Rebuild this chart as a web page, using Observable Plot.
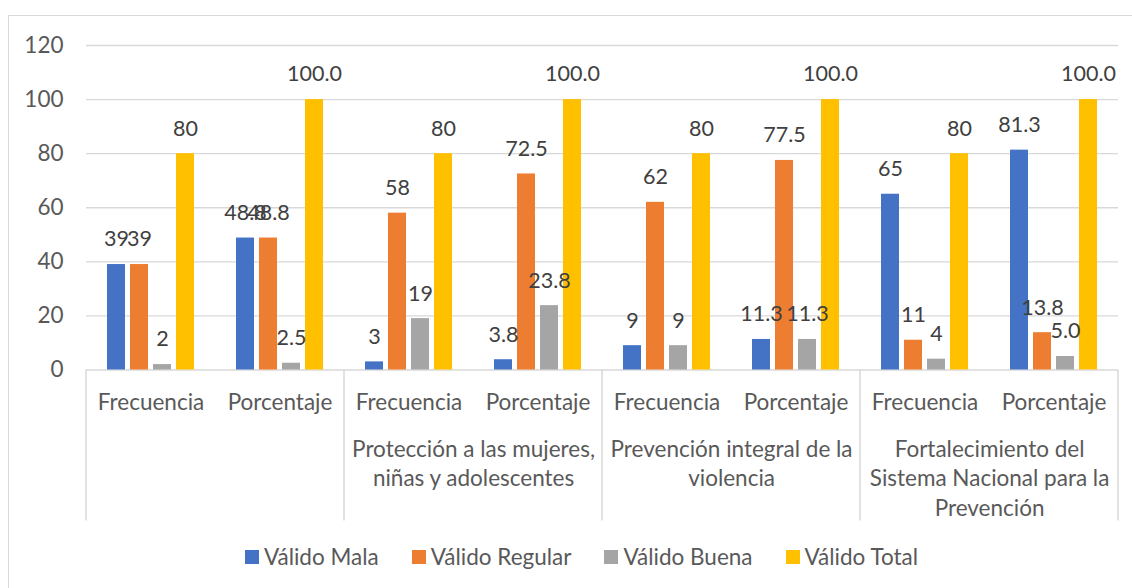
<!DOCTYPE html>
<html><head><meta charset="utf-8">
<script src="https://cdn.jsdelivr.net/npm/d3@7"></script>
<script src="https://cdn.jsdelivr.net/npm/@observablehq/plot@0.6"></script>
<style>
body{margin:0;background:#fff;}
#wrap{position:relative;width:1132px;height:588px;overflow:hidden;font-family:Lato,sans-serif;background:#fff;}
#border{position:absolute;left:8px;top:15px;width:1160px;height:620px;border:1.5px solid #d9d9d9;box-sizing:border-box;pointer-events:none;}
#chart{position:absolute;left:0;top:0;}
#legend{position:absolute;top:543px;left:0;width:1163px;display:flex;justify-content:center;gap:33px;font-size:22.5px;color:#595959;font-family:Lato,sans-serif;}
#legend .item{display:flex;align-items:center;}
#legend .sw{width:14px;height:14px;margin-right:5px;display:inline-block;}
</style>
</head><body>
<div id="wrap"><div id="border"></div><div id="chart"></div><div id="legend"></div></div>
<script>
const groups = ["", "Protección a las mujeres,\nniñas y adolescentes", "Prevención integral de la\nviolencia", "Fortalecimiento del\nSistema Nacional para la\nPrevención"];
const measures = ["Frecuencia", "Porcentaje"];
const series = ["Válido Mala", "Válido Regular", "Válido Buena", "Válido Total"];
const colors = ["#4472C4", "#ED7D31", "#A5A5A5", "#FFC000"];
const mala    = [39, 48.8, 3, 3.8, 9, 11.3, 65, 81.3];
const regular = [39, 48.8, 58, 72.5, 62, 77.5, 11, 13.8];
const buena   = [2, 2.5, 19, 23.8, 9, 11.3, 4, 5.0];
const total   = [80, 100, 80, 100, 80, 100, 80, 100];
const yTicks = [0, 20, 40, 60, 80, 100, 120];

const seriesValues = [mala, regular, buena, total];
const cats = [];
groups.forEach((g, gi) => measures.forEach((m, mi) => cats.push({key: gi + "|" + m, group: g, measure: m, idx: gi * 2 + mi})));
const rows = [];
cats.forEach(c => series.forEach((s, si) => {
  const v = seriesValues[si][c.idx];
  rows.push({key: c.key, series: s, value: v, label: c.measure === "Porcentaje" ? v.toFixed(1) : String(v)});
}));

const W = 1132, H = 540, ML = 85, MR = 14, MT = 45, MB = 170.5;
const half = (W - ML - MR) / cats.length / 2;
const FS = 22.5, FSL = 21.5;

const plot = Plot.plot({
  width: W, height: H,
  marginLeft: ML, marginRight: MR, marginTop: MT, marginBottom: MB,
  style: {fontFamily: "Lato, sans-serif", fontSize: FS + "px", color: "#595959", background: "transparent", overflow: "visible"},
  fx: {domain: cats.map(c => c.key), padding: 0, axis: null},
  x: {domain: series, paddingInner: 0.227, paddingOuter: 0.884, axis: null},
  y: {domain: [0, 120], axis: null},
  color: {domain: series, range: colors},
  marks: [
    Plot.ruleY(yTicks, {stroke: "#d9d9d9", strokeWidth: 1.3}),
    Plot.axisY({ticks: yTicks, label: null, tickSize: 0, tickPadding: 23, fontSize: FS, fill: "#595959", facetAnchor: "left"}),
    Plot.barY(rows, {fx: "key", x: "series", y: "value", fill: "series"}),
    Plot.text(rows, {fx: "key", x: "series", y: "value", text: "label", dy: -25, fontSize: FSL, fill: "#404040"}),
    Plot.text(cats, {fx: "key", text: "measure", frameAnchor: "bottom", dy: 40, fontSize: FS, fill: "#595959"}),
    Plot.text(cats.filter(c => c.measure === "Frecuencia"), {fx: "key", text: "group", frameAnchor: "bottom", lineAnchor: "top", dy: 66, dx: half, lineHeight: 1.31, fontSize: FS, fill: "#595959"})
  ]
});
document.getElementById("chart").appendChild(plot);

// category-axis separators drawn from the fx and y scales
const fx = plot.scale("fx"), ys = plot.scale("y");
const y0 = ys.apply(0);
const seps = cats.filter(c => c.measure === "Frecuencia").map(c => fx.apply(c.key));
seps.push(fx.apply(cats[cats.length - 1].key) + fx.bandwidth);
d3.select(plot).append("g").selectAll("line").data(seps).join("line")
  .attr("x1", d => d).attr("x2", d => d).attr("y1", y0).attr("y2", y0 + 151)
  .attr("stroke", "#d9d9d9").attr("stroke-width", 1.5);

const lg = d3.select("#legend");
series.forEach((s, i) => {
  const it = lg.append("div").attr("class", "item");
  it.append("span").attr("class", "sw").style("background", colors[i]);
  it.append("span").text(s);
});
</script>
</body></html>
